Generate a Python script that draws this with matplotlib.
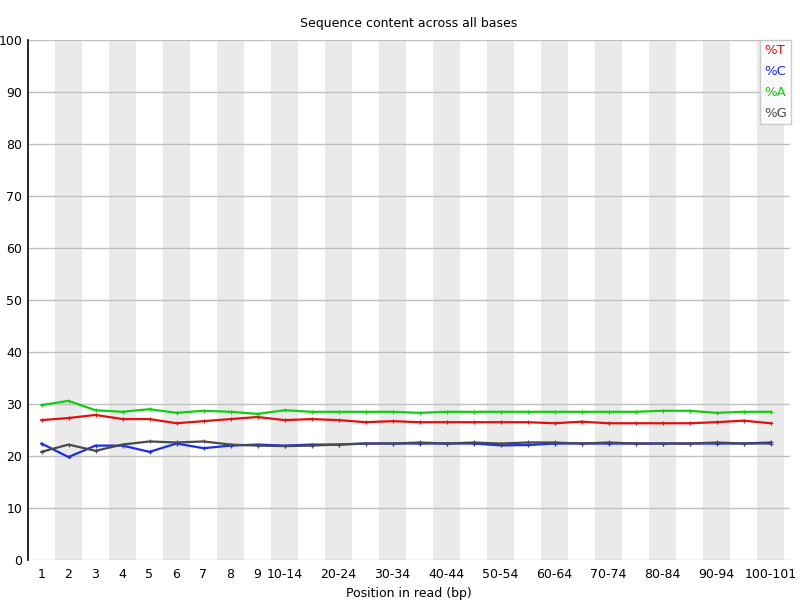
import matplotlib
matplotlib.use("Agg")
import matplotlib.pyplot as plt
import numpy as np

# -----------------------------------------------------------#
# Data
# -----------------------------------------------------------#
positions = ["1", "2", "3", "4", "5", "6", "7", "8", "9",
             "10-14", "15-19", "20-24", "25-29", "30-34", "35-39",
             "40-44", "45-49", "50-54", "55-59", "60-64", "65-69",
             "70-74", "75-79", "80-84", "85-89", "90-94", "95-99", "100-101"]

pct_T = [26.9, 27.3, 27.9, 27.1, 27.1, 26.3, 26.7, 27.1, 27.5,
         26.9, 27.1, 26.9, 26.5, 26.7, 26.5, 26.5, 26.5, 26.5, 26.5,
         26.3, 26.6, 26.3, 26.3, 26.3, 26.3, 26.5, 26.8, 26.3]
pct_C = [22.4, 19.8, 22.0, 22.0, 20.8, 22.4, 21.5, 22.0, 22.2,
         22.0, 22.2, 22.2, 22.4, 22.4, 22.4, 22.4, 22.4, 22.05, 22.1,
         22.4, 22.4, 22.4, 22.4, 22.4, 22.4, 22.4, 22.4, 22.6]
pct_A = [29.8, 30.6, 28.8, 28.5, 29.0, 28.3, 28.7, 28.5, 28.1,
         28.8, 28.5, 28.5, 28.5, 28.5, 28.3, 28.5, 28.5, 28.5, 28.5,
         28.5, 28.5, 28.5, 28.5, 28.7, 28.7, 28.3, 28.5, 28.5]
pct_G = [20.8, 22.2, 21.0, 22.2, 22.8, 22.6, 22.8, 22.2, 22.0,
         21.9, 22.0, 22.2, 22.4, 22.4, 22.6, 22.4, 22.6, 22.4, 22.6,
         22.6, 22.4, 22.6, 22.4, 22.4, 22.4, 22.6, 22.4, 22.4]

series = [("%T", pct_T, "#e0100e"),
          ("%C", pct_C, "#1a2ee6"),
          ("%A", pct_A, "#12cc12"),
          ("%G", pct_G, "#4a4a4a")]

# -----------------------------------------------------------#
# Figure
# -----------------------------------------------------------#
fig = plt.figure(figsize=(8, 6), dpi=100)
ax = fig.add_axes([28/800, 40/600, (790-28)/800, 520/600])

n = len(positions)
x = np.arange(n)

for i in range(n):
    if i % 2 == 1:
        ax.axvspan(i - 0.5, i + 0.5, color="#eaeaea", lw=0, zorder=0)

for v in range(0, 101, 10):
    ax.axhline(v, color="#c0c0c0", lw=1, zorder=1)

for name, vals, col in series:
    ax.plot(x, vals, color=col, lw=1.6, label=name, zorder=3,
            marker="+", markersize=3, markeredgewidth=0.8)

ax.set_xlim(-0.5, n - 0.5 + 6/27)
ax.set_ylim(0, 100)
ax.set_yticks(range(0, 101, 10))

tick_idx = list(range(9)) + list(range(9, n, 2))
ax.set_xticks(tick_idx)
ax.set_xticklabels([positions[i] for i in tick_idx])

for s in ["top", "right", "bottom"]:
    ax.spines[s].set_visible(False)
ax.spines["left"].set_color("black")
ax.spines["left"].set_linewidth(1.2)
ax.tick_params(length=0, labelsize=9, pad=4)
ax.tick_params(axis="x", pad=6)

ax.set_title("Sequence content across all bases", fontsize=9, pad=9)
ax.set_xlabel("Position in read (bp)", fontsize=9, labelpad=4)

leg = ax.legend(loc="upper right", bbox_to_anchor=(791/800, 560/600),
                bbox_transform=fig.transFigure, handlelength=0,
                handletextpad=0, labelcolor="linecolor", fontsize=9.5,
                frameon=True, fancybox=False, borderpad=0.3,
                labelspacing=0.62, borderaxespad=0)
for h in leg.legend_handles:
    h.set_visible(False)
leg.get_frame().set_edgecolor("#c0c0c0")
leg.get_frame().set_linewidth(1)

fig.savefig("out.png", dpi=100)
